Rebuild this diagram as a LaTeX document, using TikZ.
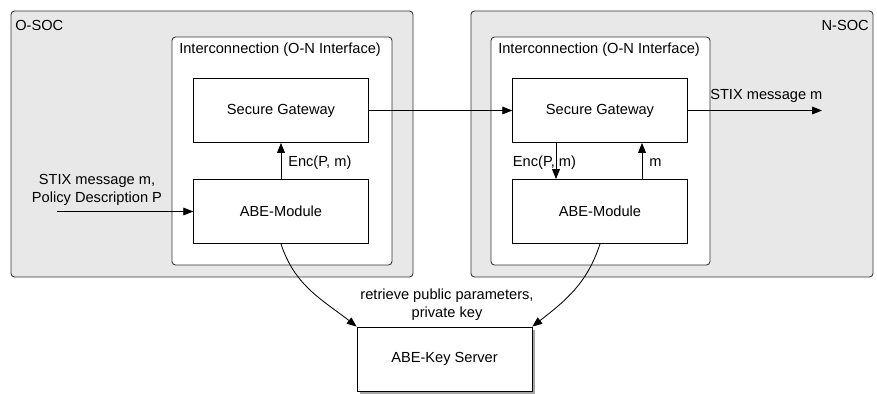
\documentclass[tikz,border=0pt]{standalone}
\usepackage{fontspec}
\setmainfont{Liberation Sans}
\usetikzlibrary{arrows.meta,shadows}
\definecolor{socgray}{HTML}{E8E8E8}
\tikzset{
	socbox/.style={draw=black!80, fill=socgray, rounded corners=2.5pt, line width=0.6pt},
	ifacebox/.style={draw=black!80, fill=white, rounded corners=2.5pt, line width=0.6pt},
	unitbox/.style={draw=black, fill=white, line width=0.6pt, minimum width=4.37cm, minimum height=1.6cm, inner sep=0pt},
	flow/.style={line width=0.6pt, -{Triangle[length=7pt,width=5.5pt]}},
	lbl/.style={inner sep=0pt, align=center}
}

\begin{document}
\begin{tikzpicture}[x=0.025cm, y=-0.025cm, font=\fontsize{10.4}{12.6}\selectfont]
			%%%%% START %%%%%
			\useasboundingbox (0, 0) rectangle (877, 394);
			
			% the two SOCs
			\draw[socbox] (11, 11) rectangle (413, 277);
			\draw[socbox] (471, 11) rectangle (873, 277);
			\node[lbl, anchor=west] (osoc) at (15, 25) {O-SOC};
			\node[lbl, anchor=east] (nsoc) at (869, 25) {N-SOC};
			
			% interfaces
			\draw[ifacebox] (172, 37) rectangle (392, 265);
			\draw[ifacebox] (491, 37) rectangle (710, 265);
			\node[lbl, anchor=west] (ifaceo) at (179, 50) {Interconnection (O-N Interface)};
			\node[lbl, anchor=west] (ifacen) at (498, 50) {Interconnection (O-N Interface)};
			
			\node[unitbox] (gwo) at (281, 110.5) {Secure Gateway};
			\node[unitbox] (abeo) at (281, 211.5) {ABE-Module};
			\node[unitbox] (gwn) at (600, 110.5) {Secure Gateway};
			\node[unitbox] (aben) at (600, 211.5) {ABE-Module};
			
			\node[unitbox, fill=white, drop shadow={shadow xshift=2pt, shadow yshift=-2pt, opacity=0.7}] (keysrv) at (444.5, 359) {ABE-Key Server};
			
			% messages
			\coordinate (stixin) at (57, 211.5);
			\coordinate (stixout) at (822, 110.5);
			\draw[flow] (stixin) -- (abeo.west);
			\node[lbl] (inlbl) at (97, 190) {STIX message m,\\Policy Description P};
			
			\draw[flow] (abeo.north) -- (gwo.south);
			\node[lbl, anchor=west] (enco) at (288, 163) {Enc(P, m)};
			
			\draw[flow] (gwo.east) -- (gwn.west);
			\draw[flow] (gwn.east) -- (stixout);
			\node[lbl, anchor=west] (outlbl) at (710, 96) {STIX message m};
			
			\draw[flow] ([xshift=-1.1cm]gwn.south) -- ([xshift=-1.1cm]aben.north);
			\node[lbl] (encn) at (544.5, 163) {Enc(P, m)};
			\draw[flow] ([xshift=1.05cm]aben.north) -- ([xshift=1.05cm]gwn.south);
			\node[lbl, anchor=west] (mlbl) at (649, 163) {m};
			
			% key server
			\draw[flow] (abeo.south) to[out=-72, in=142] (keysrv.north west);
			\draw[flow] (aben.south) to[out=-108, in=38] (keysrv.north east);
			\node[lbl] (keylbl) at (447, 305) {retrieve public parameters,\\private key};
			%%%%% END %%%%%
\end{tikzpicture}
\end{document}
